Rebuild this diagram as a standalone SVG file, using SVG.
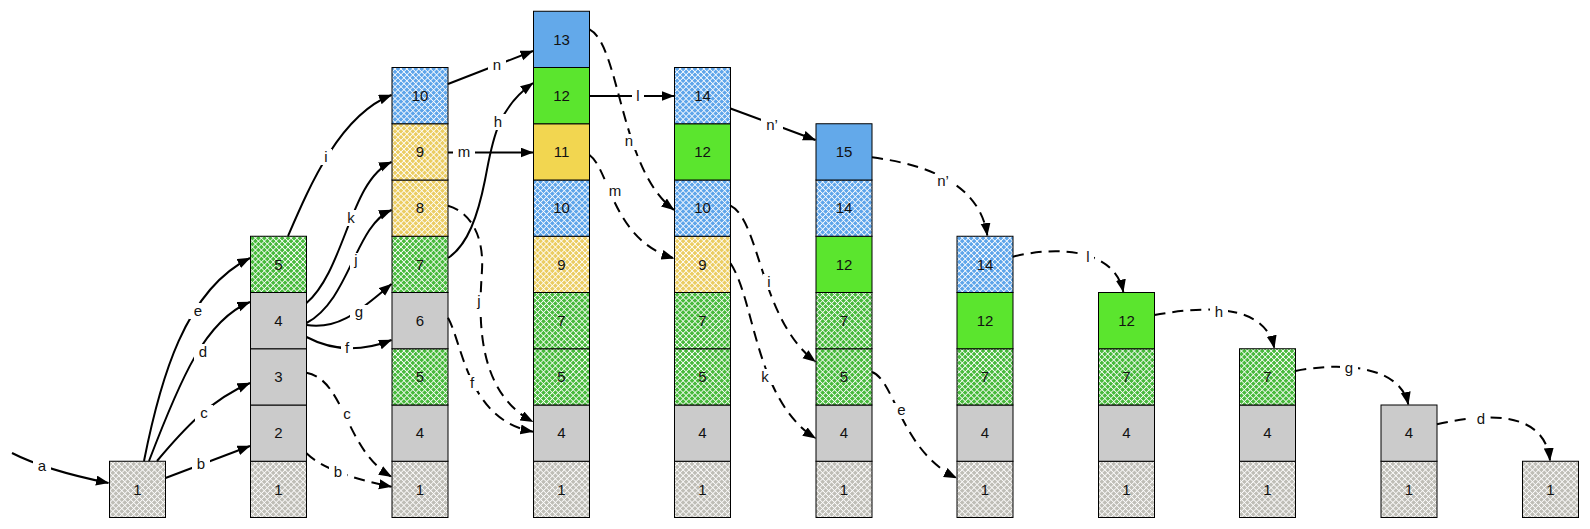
<svg xmlns="http://www.w3.org/2000/svg" width="1590" height="529" viewBox="0 0 1590 529">
<defs>
<pattern id="hatch-grey" width="4.2" height="4.2" patternUnits="userSpaceOnUse" patternTransform="rotate(45)"><rect width="4.2" height="4.2" fill="#bfbeb7"/><rect width="4.2" height="0.8" fill="#fff"/><rect width="0.8" height="4.2" fill="#fff"/></pattern>
<pattern id="hatch-green" width="4.2" height="4.2" patternUnits="userSpaceOnUse" patternTransform="rotate(45)"><rect width="4.2" height="4.2" fill="#48ba3c"/><rect width="4.2" height="0.8" fill="#fff"/><rect width="0.8" height="4.2" fill="#fff"/></pattern>
<pattern id="hatch-yellow" width="4.2" height="4.2" patternUnits="userSpaceOnUse" patternTransform="rotate(45)"><rect width="4.2" height="4.2" fill="#ebcd62"/><rect width="4.2" height="0.8" fill="#fff"/><rect width="0.8" height="4.2" fill="#fff"/></pattern>
<pattern id="hatch-blue" width="4.2" height="4.2" patternUnits="userSpaceOnUse" patternTransform="rotate(45)"><rect width="4.2" height="4.2" fill="#5ea5ea"/><rect width="4.2" height="0.8" fill="#fff"/><rect width="0.8" height="4.2" fill="#fff"/></pattern>
<marker id="arr" markerUnits="userSpaceOnUse" markerWidth="14" markerHeight="11" refX="12.5" refY="5" orient="auto"><path d="M0,0 L13,5 L0,10 z" fill="#000"/></marker>
<style>
.cell rect{stroke:#000;stroke-width:1}
.gs{fill:#cbcbcb}.gh{fill:url(#hatch-grey)}
.grs{fill:#5be52e}.grh{fill:url(#hatch-green)}
.ys{fill:#f2d650}.yh{fill:url(#hatch-yellow)}
.bs{fill:#63a9ea}.bh{fill:url(#hatch-blue)}
.cell text{font-family:"Liberation Sans",Arial,sans-serif;font-size:15px;text-anchor:middle;fill:#111}
.con path{fill:none;stroke:#000;stroke-width:2;marker-end:url(#arr)}
.con path.d{stroke-dasharray:11 7}
.lb{fill:#fff}
.lbl{font-family:"Liberation Sans",Arial,sans-serif;font-size:15px;text-anchor:middle;fill:#111}
</style>
</defs>
<rect width="1590" height="529" fill="#fff"/>

<!-- column 0 -->
<g id="c0-1" class="cell"><rect class="gh" x="109.5" y="461.25" width="56" height="56.25"/><text x="137.5" y="494.7">1</text></g>
<!-- column 1 -->
<g id="c1-1" class="cell"><rect class="gh" x="250.5" y="461.25" width="56" height="56.25"/><text x="278.5" y="494.7">1</text></g>
<g id="c1-2" class="cell"><rect class="gs" x="250.5" y="405" width="56" height="56.25"/><text x="278.5" y="438.4">2</text></g>
<g id="c1-3" class="cell"><rect class="gs" x="250.5" y="348.75" width="56" height="56.25"/><text x="278.5" y="382.2">3</text></g>
<g id="c1-4" class="cell"><rect class="gs" x="250.5" y="292.5" width="56" height="56.25"/><text x="278.5" y="325.9">4</text></g>
<g id="c1-5" class="cell"><rect class="grh" x="250.5" y="236.25" width="56" height="56.25"/><text x="278.5" y="269.7">5</text></g>
<!-- column 2 -->
<g id="c2-1" class="cell"><rect class="gh" x="392" y="461.25" width="56" height="56.25"/><text x="420" y="494.7">1</text></g>
<g id="c2-4" class="cell"><rect class="gs" x="392" y="405" width="56" height="56.25"/><text x="420" y="438.4">4</text></g>
<g id="c2-5" class="cell"><rect class="grh" x="392" y="348.75" width="56" height="56.25"/><text x="420" y="382.2">5</text></g>
<g id="c2-6" class="cell"><rect class="gs" x="392" y="292.5" width="56" height="56.25"/><text x="420" y="325.9">6</text></g>
<g id="c2-7" class="cell"><rect class="grh" x="392" y="236.25" width="56" height="56.25"/><text x="420" y="269.7">7</text></g>
<g id="c2-8" class="cell"><rect class="yh" x="392" y="180" width="56" height="56.25"/><text x="420" y="213.4">8</text></g>
<g id="c2-9" class="cell"><rect class="yh" x="392" y="123.75" width="56" height="56.25"/><text x="420" y="157.2">9</text></g>
<g id="c2-10" class="cell"><rect class="bh" x="392" y="67.5" width="56" height="56.25"/><text x="420" y="100.9">10</text></g>
<!-- column 3 -->
<g id="c3-1" class="cell"><rect class="gh" x="533.5" y="461.25" width="56" height="56.25"/><text x="561.5" y="494.7">1</text></g>
<g id="c3-4" class="cell"><rect class="gs" x="533.5" y="405" width="56" height="56.25"/><text x="561.5" y="438.4">4</text></g>
<g id="c3-5" class="cell"><rect class="grh" x="533.5" y="348.75" width="56" height="56.25"/><text x="561.5" y="382.2">5</text></g>
<g id="c3-7" class="cell"><rect class="grh" x="533.5" y="292.5" width="56" height="56.25"/><text x="561.5" y="325.9">7</text></g>
<g id="c3-9" class="cell"><rect class="yh" x="533.5" y="236.25" width="56" height="56.25"/><text x="561.5" y="269.7">9</text></g>
<g id="c3-10" class="cell"><rect class="bh" x="533.5" y="180" width="56" height="56.25"/><text x="561.5" y="213.4">10</text></g>
<g id="c3-11" class="cell"><rect class="ys" x="533.5" y="123.75" width="56" height="56.25"/><text x="561.5" y="157.2">11</text></g>
<g id="c3-12" class="cell"><rect class="grs" x="533.5" y="67.5" width="56" height="56.25"/><text x="561.5" y="100.9">12</text></g>
<g id="c3-13" class="cell"><rect class="bs" x="533.5" y="11.25" width="56" height="56.25"/><text x="561.5" y="44.7">13</text></g>
<!-- column 4 -->
<g id="c4-1" class="cell"><rect class="gh" x="674.5" y="461.25" width="56" height="56.25"/><text x="702.5" y="494.7">1</text></g>
<g id="c4-4" class="cell"><rect class="gs" x="674.5" y="405" width="56" height="56.25"/><text x="702.5" y="438.4">4</text></g>
<g id="c4-5" class="cell"><rect class="grh" x="674.5" y="348.75" width="56" height="56.25"/><text x="702.5" y="382.2">5</text></g>
<g id="c4-7" class="cell"><rect class="grh" x="674.5" y="292.5" width="56" height="56.25"/><text x="702.5" y="325.9">7</text></g>
<g id="c4-9" class="cell"><rect class="yh" x="674.5" y="236.25" width="56" height="56.25"/><text x="702.5" y="269.7">9</text></g>
<g id="c4-10" class="cell"><rect class="bh" x="674.5" y="180" width="56" height="56.25"/><text x="702.5" y="213.4">10</text></g>
<g id="c4-12" class="cell"><rect class="grs" x="674.5" y="123.75" width="56" height="56.25"/><text x="702.5" y="157.2">12</text></g>
<g id="c4-14" class="cell"><rect class="bh" x="674.5" y="67.5" width="56" height="56.25"/><text x="702.5" y="100.9">14</text></g>
<!-- column 5 -->
<g id="c5-1" class="cell"><rect class="gh" x="816" y="461.25" width="56" height="56.25"/><text x="844" y="494.7">1</text></g>
<g id="c5-4" class="cell"><rect class="gs" x="816" y="405" width="56" height="56.25"/><text x="844" y="438.4">4</text></g>
<g id="c5-5" class="cell"><rect class="grh" x="816" y="348.75" width="56" height="56.25"/><text x="844" y="382.2">5</text></g>
<g id="c5-7" class="cell"><rect class="grh" x="816" y="292.5" width="56" height="56.25"/><text x="844" y="325.9">7</text></g>
<g id="c5-12" class="cell"><rect class="grs" x="816" y="236.25" width="56" height="56.25"/><text x="844" y="269.7">12</text></g>
<g id="c5-14" class="cell"><rect class="bh" x="816" y="180" width="56" height="56.25"/><text x="844" y="213.4">14</text></g>
<g id="c5-15" class="cell"><rect class="bs" x="816" y="123.75" width="56" height="56.25"/><text x="844" y="157.2">15</text></g>
<!-- column 6 -->
<g id="c6-1" class="cell"><rect class="gh" x="957" y="461.25" width="56" height="56.25"/><text x="985" y="494.7">1</text></g>
<g id="c6-4" class="cell"><rect class="gs" x="957" y="405" width="56" height="56.25"/><text x="985" y="438.4">4</text></g>
<g id="c6-7" class="cell"><rect class="grh" x="957" y="348.75" width="56" height="56.25"/><text x="985" y="382.2">7</text></g>
<g id="c6-12" class="cell"><rect class="grs" x="957" y="292.5" width="56" height="56.25"/><text x="985" y="325.9">12</text></g>
<g id="c6-14" class="cell"><rect class="bh" x="957" y="236.25" width="56" height="56.25"/><text x="985" y="269.7">14</text></g>
<!-- column 7 -->
<g id="c7-1" class="cell"><rect class="gh" x="1098.5" y="461.25" width="56" height="56.25"/><text x="1126.5" y="494.7">1</text></g>
<g id="c7-4" class="cell"><rect class="gs" x="1098.5" y="405" width="56" height="56.25"/><text x="1126.5" y="438.4">4</text></g>
<g id="c7-7" class="cell"><rect class="grh" x="1098.5" y="348.75" width="56" height="56.25"/><text x="1126.5" y="382.2">7</text></g>
<g id="c7-12" class="cell"><rect class="grs" x="1098.5" y="292.5" width="56" height="56.25"/><text x="1126.5" y="325.9">12</text></g>
<!-- column 8 -->
<g id="c8-1" class="cell"><rect class="gh" x="1239.5" y="461.25" width="56" height="56.25"/><text x="1267.5" y="494.7">1</text></g>
<g id="c8-4" class="cell"><rect class="gs" x="1239.5" y="405" width="56" height="56.25"/><text x="1267.5" y="438.4">4</text></g>
<g id="c8-7" class="cell"><rect class="grh" x="1239.5" y="348.75" width="56" height="56.25"/><text x="1267.5" y="382.2">7</text></g>
<!-- column 9 -->
<g id="c9-1" class="cell"><rect class="gh" x="1381" y="461.25" width="56" height="56.25"/><text x="1409" y="494.7">1</text></g>
<g id="c9-4" class="cell"><rect class="gs" x="1381" y="405" width="56" height="56.25"/><text x="1409" y="438.4">4</text></g>
<!-- column 10 -->
<g id="c10-1" class="cell"><rect class="gh" x="1522.5" y="461.25" width="56" height="56.25"/><text x="1550.5" y="494.7">1</text></g>

<g id="connectors" class="con">
<!-- solid -->
<path d="M12,453 Q45,470 108.5,483"/>
<path d="M165.5,478 L250,446"/>
<path d="M157,461 C183,430 210,400 250,383"/>
<path d="M149,461 C180,380 205,320 250,302"/>
<path d="M144,461 C160,380 185,290 250,258"/>
<path d="M306.5,337 Q346,358 391.5,340"/>
<path d="M306.5,325 C340,330 360,310 391.5,284"/>
<path d="M306.5,323 C350,300 355,225 391.5,210"/>
<path d="M306.5,303 C345,270 350,180 391.5,162"/>
<path d="M288,236 C310,185 340,115 391.5,95"/>
<path d="M448,258 C468,245 478,215 485,180 S495,110 533,83"/>
<path d="M448,84 L533,51"/>
<path d="M448,152.5 L533,152.5"/>
<path d="M589.5,96 L674,96"/>
<path d="M730.5,108.5 L815.5,140"/>
<!-- dashed -->
<path class="d" d="M306.5,453.3 Q327.75,474 391.5,486.7"/>
<path class="d" d="M306.5,372.7 C345,380 345,450 391.5,476.7"/>
<path class="d" d="M448,317.7 C463,345 468,420 533,431.7"/>
<path class="d" d="M448,205.7 C470,212 484,235 482,270 S472,390 533,421.7"/>
<path class="d" d="M589.5,29.3 C620,45 620,170 674,210"/>
<path class="d" d="M589.5,155 C610,170 612,240 674,258.3"/>
<path class="d" d="M730.5,205.7 C760,220 760,320 815.5,361.7"/>
<path class="d" d="M730.5,263.3 C755,300 755,400 815.5,438.3"/>
<path class="d" d="M872,372 C895,380 900,450 956.5,478"/>
<path class="d" d="M872,157.3 C930,165 980,185 987.3,235.5"/>
<path class="d" d="M1013,256.7 C1060,245 1115,250 1123.3,292"/>
<path class="d" d="M1154.5,315 C1210,305 1265,305 1274.3,348"/>
<path class="d" d="M1295.5,371 C1340,362 1400,365 1408.3,404.5"/>
<path class="d" d="M1437,424.3 C1490,412 1545,412 1550,460.5"/>
</g>

<g id="labels">
<rect class="lb" x="33" y="459" width="18" height="16"/><text class="lbl" x="42" y="471">a</text>
<rect class="lb" x="192" y="456" width="18" height="16"/><text class="lbl" x="201" y="469">b</text>
<rect class="lb" x="195" y="405" width="18" height="16"/><text class="lbl" x="204" y="417.5">c</text>
<rect class="lb" x="194" y="344" width="18" height="16"/><text class="lbl" x="203" y="357">d</text>
<rect class="lb" x="189" y="303" width="18" height="16"/><text class="lbl" x="198" y="315.5">e</text>
<rect class="lb" x="341" y="340" width="12" height="16"/><text class="lbl" x="347" y="353">f</text>
<rect class="lb" x="350" y="305" width="18" height="16"/><text class="lbl" x="359" y="317">g</text>
<rect class="lb" x="350" y="253" width="12" height="17"/><text class="lbl" x="356" y="265">j</text>
<rect class="lb" x="342" y="210" width="18" height="16"/><text class="lbl" x="351" y="223">k</text>
<rect class="lb" x="320" y="149" width="12" height="16"/><text class="lbl" x="326" y="162">i</text>
<rect class="lb" x="489" y="114" width="18" height="16"/><text class="lbl" x="498" y="127">h</text>
<rect class="lb" x="488" y="58" width="18" height="16"/><text class="lbl" x="497" y="70">n</text>
<rect class="lb" x="453" y="144" width="22" height="16"/><text class="lbl" x="464" y="157">m</text>
<rect class="lb" x="632" y="88" width="12" height="16"/><text class="lbl" x="638" y="101">l</text>
<rect class="lb" x="761" y="118" width="22" height="16"/><text class="lbl" x="772" y="130">n’</text>
<rect class="lb" x="329" y="464" width="18" height="16"/><text class="lbl" x="338" y="477">b</text>
<rect class="lb" x="338" y="406" width="18" height="16"/><text class="lbl" x="347" y="418.5">c</text>
<rect class="lb" x="466" y="375" width="12" height="16"/><text class="lbl" x="472" y="388">f</text>
<rect class="lb" x="473" y="294" width="12" height="17"/><text class="lbl" x="479" y="306">j</text>
<rect class="lb" x="620" y="134" width="18" height="16"/><text class="lbl" x="629" y="146">n</text>
<rect class="lb" x="604" y="184" width="22" height="16"/><text class="lbl" x="615" y="196">m</text>
<rect class="lb" x="763" y="274" width="12" height="16"/><text class="lbl" x="769" y="287">i</text>
<rect class="lb" x="756" y="369" width="18" height="16"/><text class="lbl" x="765" y="382">k</text>
<rect class="lb" x="892.5" y="403" width="18" height="16"/><text class="lbl" x="901.5" y="415">e</text>
<rect class="lb" x="932" y="174" width="22" height="16"/><text class="lbl" x="943" y="186">n’</text>
<rect class="lb" x="1082" y="249" width="12" height="16"/><text class="lbl" x="1088" y="262">l</text>
<rect class="lb" x="1210" y="304" width="18" height="16"/><text class="lbl" x="1219" y="317">h</text>
<rect class="lb" x="1340" y="362" width="18" height="16"/><text class="lbl" x="1349" y="373">g</text>
<rect class="lb" x="1472" y="411" width="18" height="16"/><text class="lbl" x="1481" y="424">d</text>
</g>
</svg>
